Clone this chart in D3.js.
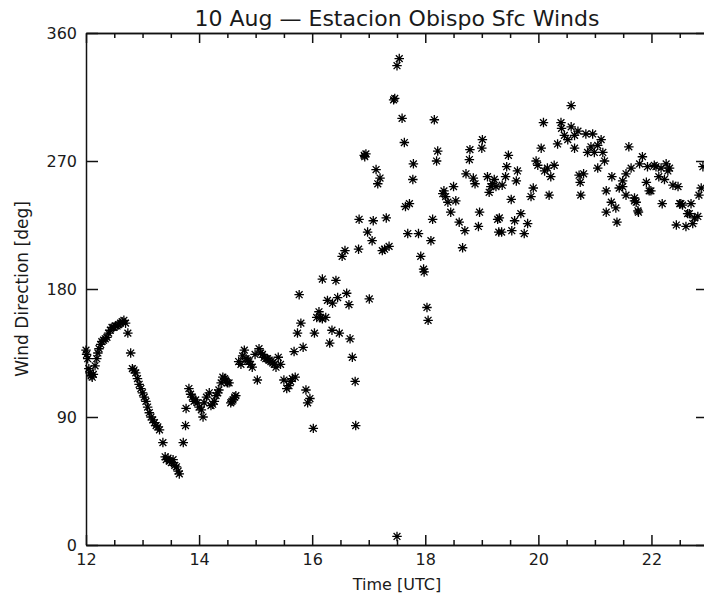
<!DOCTYPE html>
<html>
<head>
<meta charset="utf-8">
<script src="https://cdn.jsdelivr.net/npm/d3@7"></script>
<style>
  body { margin: 0; background: #fff; }
  svg text { font-family: "DejaVu Sans", sans-serif; fill: #1a1a1a; }
  .axis path, .axis line { stroke: #111; stroke-width: 1.5; }
</style>
</head>
<body>
<svg class="js-chart" width="704" height="604"></svg>
<script>
"use strict";

//data

const hours = [
  12.00, 12.01, 12.03, 12.05, 12.07, 12.09, 12.11, 12.13, 12.16, 12.19, 12.21, 12.23, 12.26, 12.28, 12.31,
  12.34, 12.37, 12.40, 12.43, 12.46, 12.49, 12.52, 12.55, 12.58, 12.61, 12.64, 12.67, 12.70, 12.74, 12.79,
  12.82, 12.85, 12.88, 12.91, 12.94, 12.97, 13.00, 13.03, 13.06, 13.09, 13.12, 13.15, 13.18, 13.21, 13.24,
  13.27, 13.30, 13.36, 13.40, 13.42, 13.45, 13.48, 13.51, 13.54, 13.57, 13.60, 13.63, 13.65, 13.72, 13.76,
  13.77, 13.82, 13.85, 13.88, 13.91, 13.94, 13.97, 14.00, 14.04, 14.07, 14.09, 14.13, 14.18, 14.21, 14.24,
  14.27, 14.30, 14.33, 14.35, 14.39, 14.42, 14.45, 14.47, 14.50, 14.53, 14.56, 14.58, 14.60, 14.63, 14.65,
  14.70, 14.74, 14.77, 14.80, 14.83, 14.86, 14.88, 14.91, 14.94, 14.99, 15.03, 15.06, 15.09, 15.12, 15.15,
  15.18, 15.21, 15.24, 15.27, 15.30, 15.33, 15.36, 15.40, 15.44, 15.50, 15.55, 15.59, 15.62, 15.65, 15.68,
  15.70, 15.74, 15.77, 15.80, 15.84, 15.89, 15.92, 15.96, 16.02, 16.04, 16.08, 16.12, 16.15, 16.18, 16.18,
  16.24, 16.27, 16.31, 16.35, 16.36, 16.42, 16.45, 16.48, 16.53, 16.58, 16.61, 16.65, 16.67, 16.71, 16.76,
  16.77, 16.82, 16.83, 16.92, 16.93, 16.95, 16.98, 17.01, 17.06, 17.08, 17.13, 17.16, 17.20, 17.24, 17.28,
  17.31, 17.36, 17.44, 17.46, 17.50, 17.50, 17.54, 17.59, 17.63, 17.65, 17.69, 17.72, 17.78, 17.79, 17.88,
  17.92, 17.97, 17.98, 18.03, 18.05, 18.10, 18.13, 18.16, 18.20, 18.22, 18.31, 18.33, 18.36, 18.40, 18.45,
  18.50, 18.54, 18.60, 18.66, 18.70, 18.72, 18.78, 18.79, 18.85, 18.88, 18.94, 18.96, 19.00, 19.01, 19.10,
  19.13, 19.16, 19.19, 19.22, 19.25, 19.28, 19.30, 19.31, 19.35, 19.36, 19.42, 19.44, 19.47, 19.52, 19.53,
  19.58, 19.61, 19.63, 19.69, 19.75, 19.81, 19.87, 19.91, 19.96, 19.99, 20.05, 20.09, 20.11, 20.16, 20.19,
  20.22, 20.28, 20.34, 20.40, 20.41, 20.46, 20.52, 20.58, 20.58, 20.64, 20.64, 20.70, 20.72, 20.74, 20.75,
  20.80, 20.84, 20.87, 20.93, 20.96, 20.99, 21.05, 21.05, 21.11, 21.14, 21.17, 21.20, 21.20, 21.29, 21.30,
  21.37, 21.39, 21.43, 21.49, 21.49, 21.55, 21.55, 21.60, 21.64, 21.70, 21.70, 21.73, 21.76, 21.77, 21.79,
  21.84, 21.91, 21.93, 21.96, 21.99, 22.05, 22.08, 22.13, 22.17, 22.19, 22.23, 22.26, 22.29, 22.32, 22.38,
  22.44, 22.47, 22.50, 22.52, 22.55, 22.61, 22.64, 22.67, 22.70, 22.73, 22.76, 22.82, 22.84, 22.88, 22.91
];

const directions = [
  137, 134, 131, 124, 121, 119, 118, 120, 126, 131, 135, 138, 141, 143, 144,
  145, 146, 149, 151, 153, 153, 154, 154, 155, 156, 157, 158, 156, 149, 135,
  124, 123, 121, 117, 113, 110, 107, 104, 101, 97, 93, 90, 88, 86, 84,
  83, 81, 72, 62, 60, 61, 59, 58, 60, 56, 55, 52, 50, 72, 84,
  96, 110, 106, 104, 101, 102, 100, 97, 95, 90, 100, 104, 107, 98, 99,
  101, 105, 107, 109, 114, 118, 117, 116, 114, 114, 100, 101, 102, 104, 105,
  129, 127, 133, 137, 131, 130, 129, 127, 125, 134, 116, 138, 135, 134, 132,
  131, 131, 130, 129, 128, 127, 125, 132, 127, 116, 110, 112, 115, 117, 136,
  118, 149, 176, 156, 139, 109, 100, 103, 82, 149, 160, 164, 160, 159, 187,
  160, 172, 142, 151, 170, 186, 174, 149, 203, 207, 177, 169, 145, 132, 115,
  84, 208, 229, 274, 273, 275, 220, 173, 214, 228, 264, 254, 258, 207, 208,
  230, 210, 313, 314, 337, 6, 342, 300, 283, 238, 219, 240, 257, 268, 219,
  203, 194, 192, 167, 158, 214, 229, 299, 270, 277, 247, 249, 245, 241, 234,
  252, 242, 227, 209, 221, 261, 271, 278, 258, 254, 224, 234, 279, 285, 259,
  248, 252, 254, 257, 252, 229, 220, 230, 220, 253, 259, 266, 274, 243, 221,
  228, 256, 263, 233, 219, 226, 245, 251, 270, 267, 279, 297, 263, 265, 246,
  259, 267, 282, 297, 293, 288, 285, 294, 309, 288, 279, 291, 260, 255, 246,
  261, 289, 276, 280, 289, 276, 281, 265, 285, 276, 270, 249, 234, 241, 259,
  237, 227, 251, 256, 252, 261, 246, 280, 265, 244, 242, 241, 235, 234, 268,
  273, 255, 266, 249, 249, 267, 266, 259, 265, 240, 257, 268, 263, 265, 253,
  225, 252, 240, 240, 239, 224, 233, 233, 240, 226, 230, 231, 246, 251, 266
];

const hourTicks = [12, 14, 16, 18, 20, 22];
const hourMinorTicks = d3.range(12.5, 23, 0.5).filter((h) => h % 2 !== 0);
const dirTicks = [0, 90, 180, 270, 360];

const title = "10 Aug \u2014 Estacion Obispo Sfc Winds";
const xTitle = "Time [UTC]";
const yTitle = "Wind Direction [deg]";

//asterisk symbol

const asterisk = {
  draw(context, size) {
    const r = Math.sqrt(size) / 2;
    const d = r * 0.72;
    context.moveTo(-r, 0);
    context.lineTo(r, 0);
    context.moveTo(0, -r);
    context.lineTo(0, r);
    context.moveTo(-d, -d);
    context.lineTo(d, d);
    context.moveTo(-d, d);
    context.lineTo(d, -d);
  }
};

//render chart

const renderChart = () => {

  const svg = d3.select(".js-chart");

  //scales

  const x = d3.scaleLinear().domain([12, 23]).range([86, 708]);
  const y = d3.scaleLinear().domain([0, 360]).range([545, 33]);

  //axes

  const addAxis = (axis, tx, ty, cls) => svg.append("g")
    .attr("class", `axis ${cls}`)
    .attr("transform", `translate(${tx}, ${ty})`)
    .call(axis);

  addAxis(d3.axisBottom(x).tickValues(hourTicks).tickSize(-10).tickSizeOuter(0).tickPadding(9).tickFormat(d3.format("d")), 0, 545, "x-bottom");
  addAxis(d3.axisBottom(x).tickValues(hourMinorTicks).tickSize(-5).tickSizeOuter(0).tickFormat(""), 0, 545, "x-minor");
  addAxis(d3.axisTop(x).tickValues(hourTicks).tickSize(-10).tickSizeOuter(0).tickFormat(""), 0, 33, "x-top");
  addAxis(d3.axisTop(x).tickValues(hourMinorTicks).tickSize(-5).tickSizeOuter(0).tickFormat(""), 0, 33, "x-top-minor");
  addAxis(d3.axisLeft(y).tickValues(dirTicks).tickSize(-12).tickSizeOuter(0).tickPadding(9).tickFormat(d3.format("d")), 86, 0, "y-left");
  addAxis(d3.axisRight(y).tickValues(dirTicks).tickSize(-12).tickSizeOuter(0).tickFormat(""), 708, 0, "y-right");

  svg.selectAll(".axis text")
    .style("font-size", "16px")
    .style("font-family", null);

  //points

  const symbol = d3.symbol().type(asterisk).size(90);

  svg.append("g")
    .selectAll("path")
    .data(d3.zip(hours, directions))
    .enter()
    .append("path")
    .attr("transform", (d) => `translate(${x(d[0])}, ${y(d[1])})`)
    .attr("d", symbol)
    .attr("stroke", "#000")
    .attr("stroke-width", 1.3)
    .attr("fill", "none");

  //titles

  svg.append("text")
    .attr("x", 397)
    .attr("y", 26)
    .attr("text-anchor", "middle")
    .style("font-size", "22px")
    .text(title);

  svg.append("text")
    .attr("x", 397)
    .attr("y", 590)
    .attr("text-anchor", "middle")
    .style("font-size", "16px")
    .text(xTitle);

  svg.append("text")
    .attr("transform", "translate(28, 289) rotate(-90)")
    .attr("text-anchor", "middle")
    .style("font-size", "17px")
    .text(yTitle);

};

renderChart();
</script>
</body>
</html>
